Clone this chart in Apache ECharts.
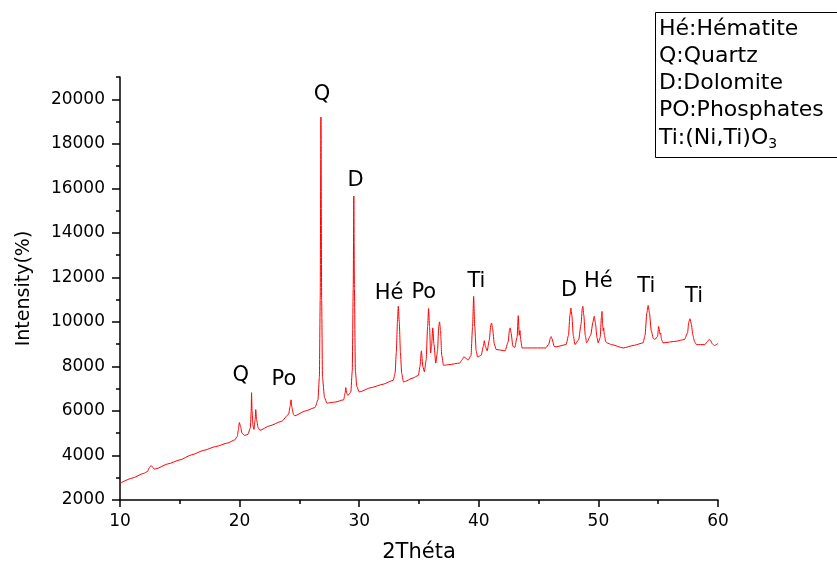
<!DOCTYPE html>
<html>
<head>
<meta charset="utf-8">
<script src="https://cdn.jsdelivr.net/npm/echarts@6/dist/echarts.min.js"></script>
<style>
html,body{margin:0;padding:0;background:#fff;}
#chart{width:837px;height:568px;}
</style>
</head>
<body>
<div id="chart"></div>
<script>
// 2θ positions (degrees)
const twoTheta = [
10.0,11.0,12.0,12.3,12.45,12.6,12.72,12.85,13.0,14.0,15.0,16.0,17.0,18.0,19.0,19.6,19.8,19.9,19.98,20.08,
20.2,20.4,20.7,20.9,20.97,21.0,21.04,21.12,21.2,21.3,21.35,21.42,21.55,21.7,22.5,23.5,24.1,24.22,24.3,24.38,
24.5,24.6,25.5,26.3,26.55,26.67,26.74,26.8,26.86,26.93,27.1,27.3,28.0,28.7,28.82,28.88,28.95,29.05,29.3,29.42,
29.5,29.55,29.6,29.68,29.8,30.0,31.0,32.0,32.85,33.0,33.1,33.2,33.27,33.35,33.45,33.55,33.7,34.5,34.95,35.08,
35.2,35.32,35.45,35.6,35.72,35.8,35.88,35.97,36.05,36.15,36.25,36.4,36.55,36.65,36.72,36.8,36.9,37.05,37.5,38.4,
38.6,38.75,38.9,39.1,39.35,39.48,39.57,39.66,39.78,39.9,40.2,40.38,40.46,40.55,40.7,40.88,41.0,41.07,41.15,41.3,
41.45,42.2,42.45,42.57,42.63,42.7,42.85,43.0,43.2,43.3,43.38,43.44,43.5,43.62,45.6,45.85,46.0,46.05,46.12,46.3,
46.45,47.3,47.5,47.62,47.7,47.78,47.9,48.04,48.35,48.55,48.65,48.7,48.78,48.9,49.02,49.35,49.55,49.65,49.75,49.88,
49.98,50.15,50.25,50.3,50.35,50.4,50.44,50.5,50.62,50.7,51.1,52.07,53.0,53.74,53.9,54.05,54.16,54.27,54.42,54.6,
54.73,54.95,55.03,55.08,55.15,55.2,55.28,55.4,56.5,57.2,57.45,57.56,57.66,57.77,57.9,58.05,58.2,58.9,59.1,59.25,
59.35,59.55,59.7,60.0
];
// Intensity values
const intensity = [
2750,2980,3200,3280,3450,3550,3480,3390,3400,3620,3800,4030,4230,4400,4560,4700,4850,5150,5480,5300,
5000,4900,4950,5250,6000,6820,6000,5350,5170,5600,6060,5600,5250,5130,5330,5530,5850,6200,6500,6150,
5850,5780,6000,6150,6500,7500,11000,19200,11000,7500,6600,6350,6400,6500,6800,7050,6800,6700,6850,7800,
11500,15650,11500,7800,7100,6850,7050,7200,7380,7700,8600,10000,10700,10000,8600,7700,7300,7480,7600,8000,
8700,8000,7760,8300,9800,10600,9800,8600,8900,9730,9000,8150,8700,9800,10000,9600,8500,8050,8080,8150,
8300,8430,8380,8280,8500,9800,11150,9800,8700,8420,8500,8900,9160,8900,8700,9200,9850,9950,9700,9000,
8760,8700,9100,9650,9730,9500,8900,8850,9300,10280,9400,9610,9200,8830,8830,9000,9300,9340,9250,8900,
8880,8980,9400,10300,10620,10300,9400,8980,9200,9900,10600,10700,10300,9400,9060,9400,10000,10250,9950,9300,
9060,9300,10200,10470,9900,9600,9730,9400,9100,9060,8980,8830,8950,9060,9400,10400,10740,10400,9600,9250,
9210,9350,9800,9700,9450,9500,9200,9060,9130,9210,9500,10000,10140,9900,9400,9100,8980,8980,9100,9210,
9180,9000,8940,9030
];
// Peak annotations
const annoText = ['Q','Po','Q','D','Hé','Po','Ti','D','Hé','Ti','Ti'];
const annoX = [20.1,23.7,26.9,29.7,32.5,35.4,39.8,47.55,50.0,54.0,58.0];
const annoY = [7580,7400,20230,16340,11290,11340,11830,11430,11830,11600,11160];
// Axis ticks
const yLabelTicks = [2000,4000,6000,8000,10000,12000,14000,16000,18000,20000];
const yMinorTicks = [3000,5000,7000,9000,11000,13000,15000,17000,19000,21000];
// Legend lines
const legendLines = ['Hé:Hématite','Q:Quartz','D:Dolomite','PO:Phosphates','Ti:(Ni,Ti)O{sub|3}'];

const FONT = '"DejaVu Sans", sans-serif';
const chart = echarts.init(document.getElementById('chart'), null, {renderer:'canvas'});

const lineData = twoTheta.map((x,i)=>[x,intensity[i]]);
const annoData = annoText.map((t,i)=>({value:[annoX[i],annoY[i]], name:t}));

const legendGraphics = legendLines.map((t,i)=>({
  type:'text', left:659, top:18 + i*27.2,
  style:{text:t, font:'22px ' + FONT, fill:'#000',
    rich:{sub:{fontSize:14, fontFamily:FONT, fill:'#000', verticalAlign:'bottom', padding:[13,0,0,0]}}}
}));

chart.setOption({
  animation:false,
  backgroundColor:'#fff',
  grid:{left:120, right:119, top:77, bottom:65, containLabel:false},
  xAxis:{
    type:'value', min:10, max:60, interval:10,
    name:'2Théta', nameLocation:'middle', nameGap:42,
    nameTextStyle:{fontFamily:FONT, fontSize:21, color:'#000'},
    axisLine:{show:true, lineStyle:{color:'#000', width:1.5}},
    axisTick:{show:true, inside:false, length:7, lineStyle:{color:'#000', width:1.5}},
    minorTick:{show:true, splitNumber:2, length:4, lineStyle:{color:'#000', width:1.5}},
    axisLabel:{fontFamily:FONT, fontSize:17, color:'#000', margin:13},
    splitLine:{show:false}, minorSplitLine:{show:false}
  },
  yAxis:[{
    type:'value', min:2000, max:21000,
    name:'Intensity(%)', nameLocation:'middle', nameGap:86,
    nameTextStyle:{fontFamily:FONT, fontSize:19, color:'#000'},
    axisLine:{show:true, lineStyle:{color:'#000', width:1.5}},
    axisTick:{show:true, inside:false, length:8, customValues:yLabelTicks, lineStyle:{color:'#000', width:1.5}},
    axisLabel:{fontFamily:FONT, fontSize:17, color:'#000', margin:15, customValues:yLabelTicks, formatter:v=>String(v)},
    splitLine:{show:false}
  },{
    type:'value', min:2000, max:21000, position:'left',
    axisLine:{show:false},
    axisTick:{show:true, inside:false, length:4, customValues:yMinorTicks, lineStyle:{color:'#000', width:1.5}},
    axisLabel:{show:false},
    splitLine:{show:false}
  }],
  series:[{
    type:'line', data:lineData, showSymbol:false, symbol:'none',
    smooth:0.2, smoothMonotone:'x',
    lineStyle:{color:'#ff0000', width:1}, z:3
  },{
    type:'scatter', data:annoData, symbolSize:0, silent:true,
    itemStyle:{opacity:1},
    label:{show:true, position:'inside', formatter:p=>p.name, opacity:1,
      fontFamily:FONT, fontSize:21, color:'#000'}
  }],
  graphic:[{
    type:'rect', left:655, top:12,
    shape:{width:200, height:145},
    style:{fill:'#fff', stroke:'#000', lineWidth:1}
  }].concat(legendGraphics)
});
</script>
</body>
</html>
